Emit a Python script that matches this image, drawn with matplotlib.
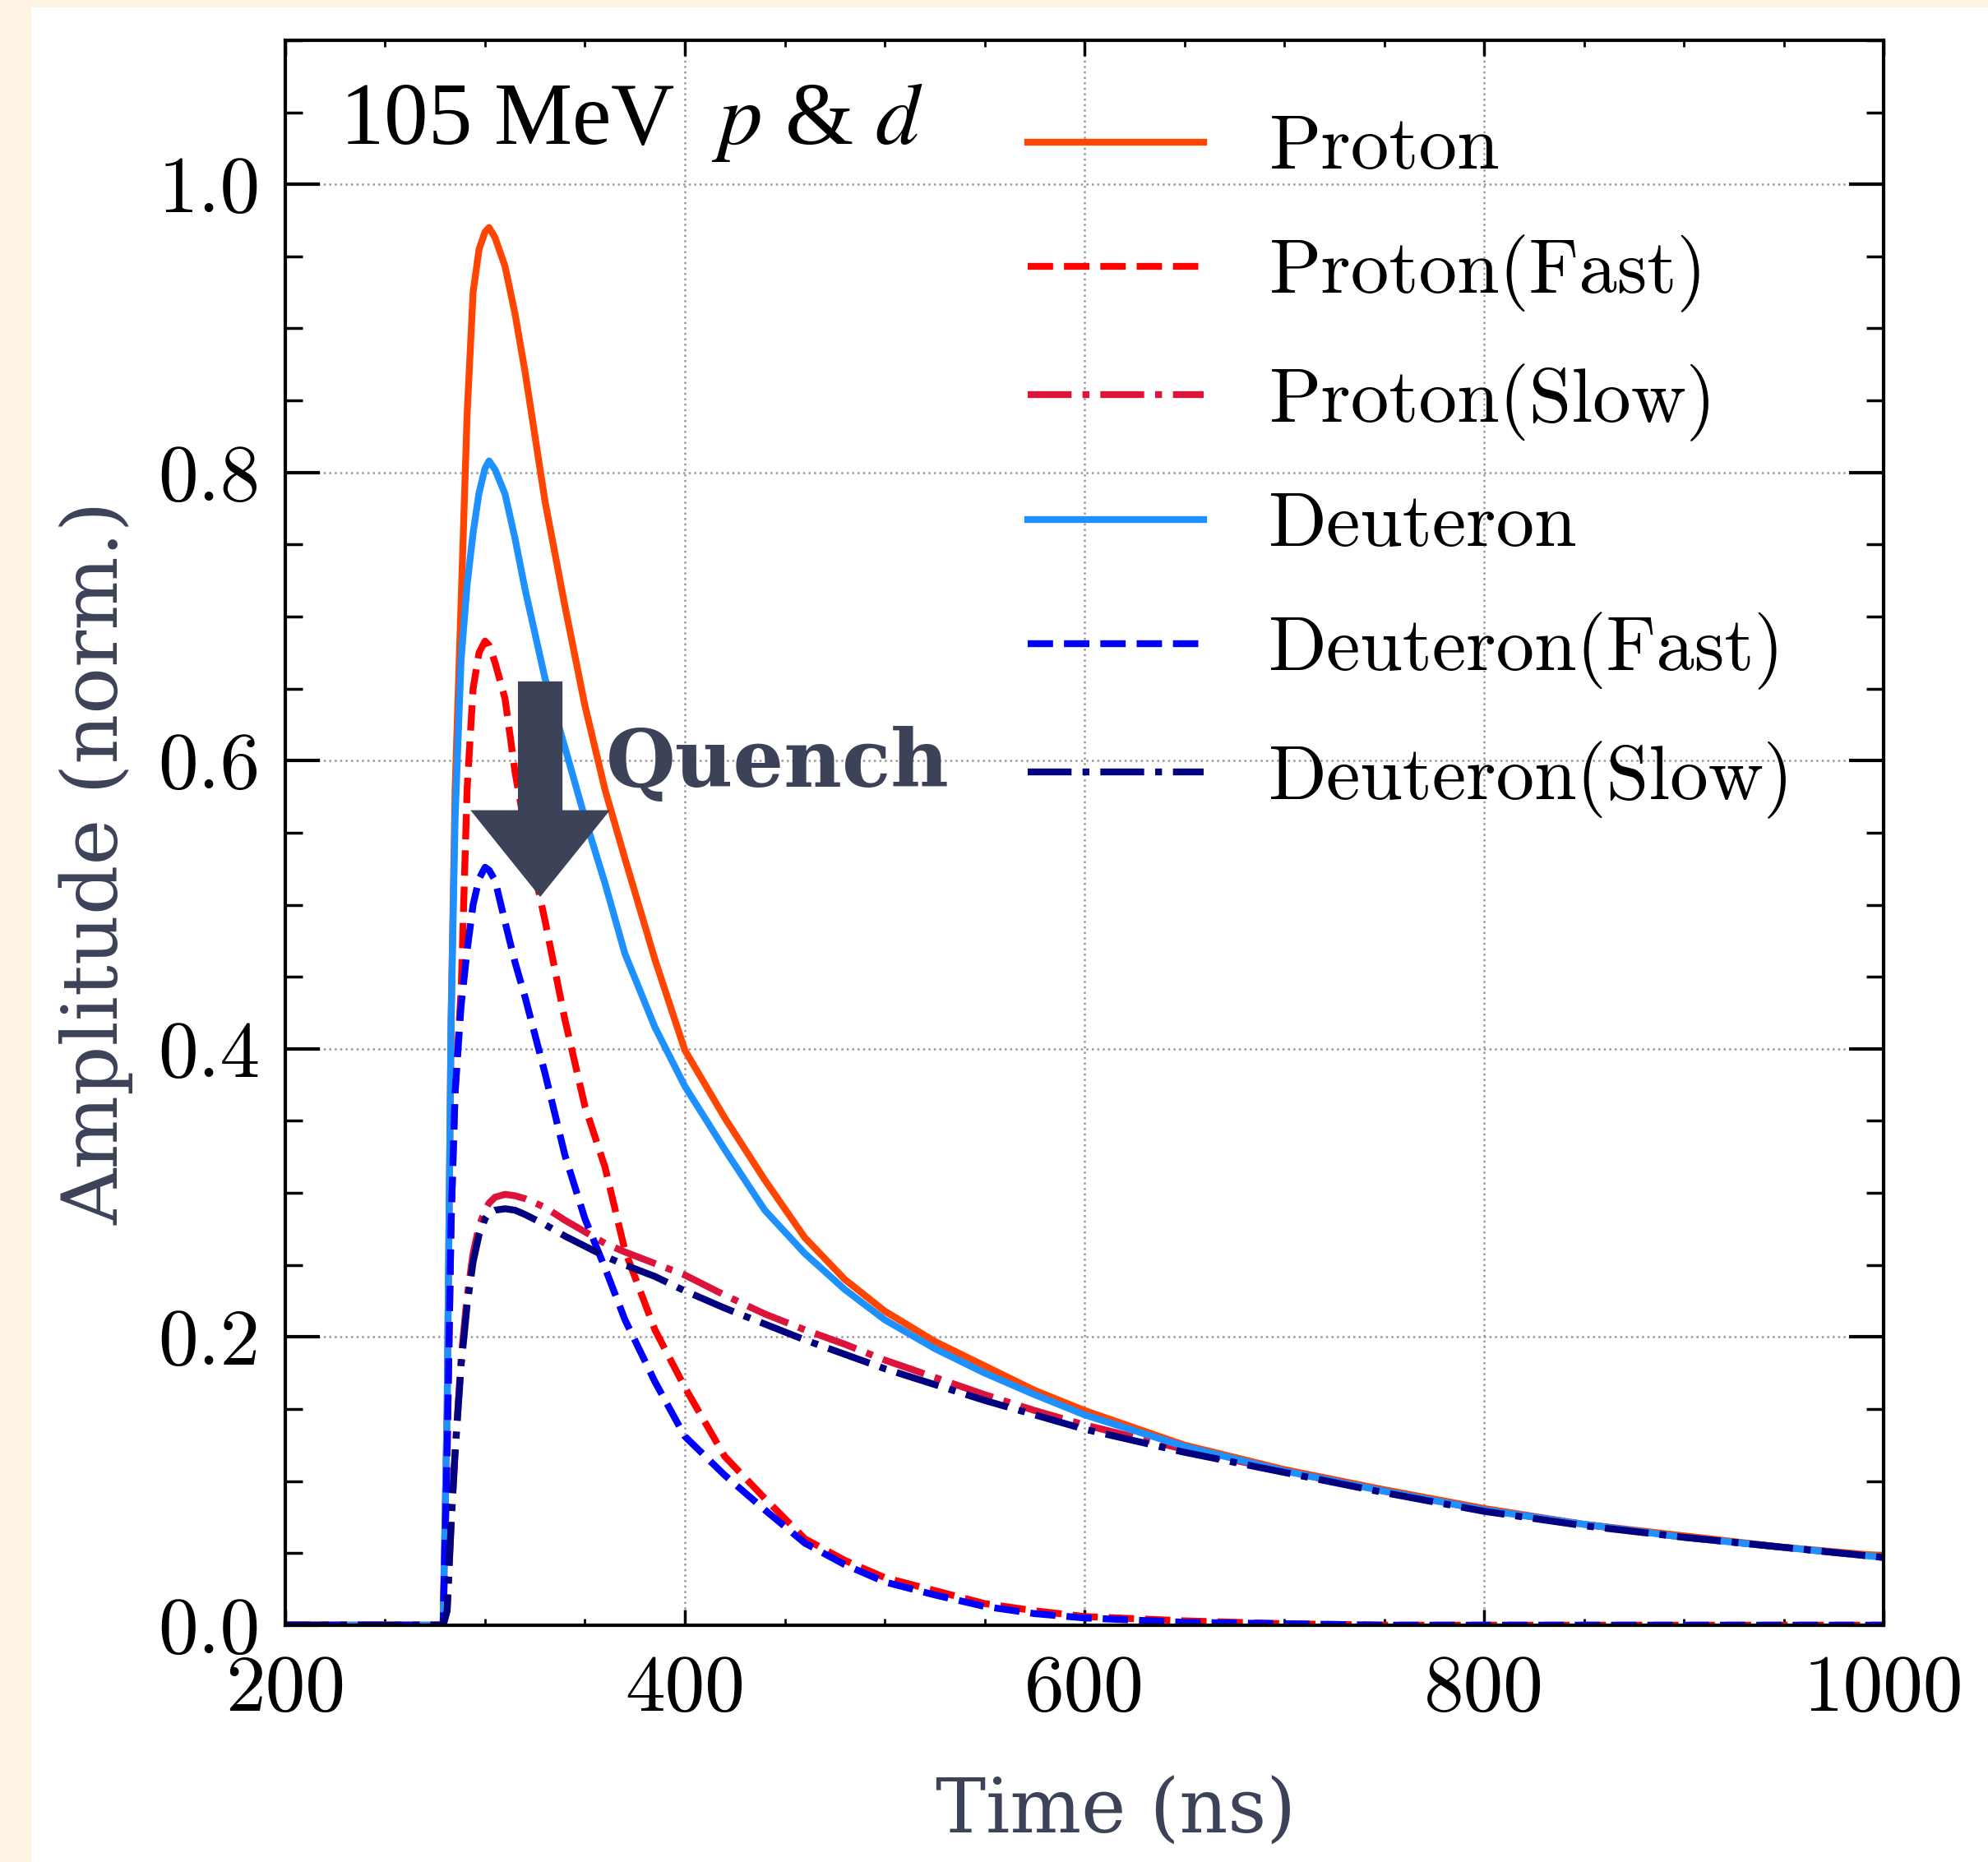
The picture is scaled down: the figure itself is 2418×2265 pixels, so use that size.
"""
脉冲波形对比图：105 MeV 质子与氘核（快/慢成分）
"""

import matplotlib
matplotlib.use('Agg')
import matplotlib.pyplot as plt
from matplotlib.patches import Rectangle, FancyArrow
from matplotlib.ticker import MultipleLocator, FormatStrFormatter

# ========== 数据 ==========
time_ns = [200, 279, 281, 283, 285, 288, 291, 294, 297, 300, 302, 305, 310, 315,
           320, 330, 340, 350, 360, 370, 385, 400, 420, 440, 460, 480, 500, 525,
           550, 575, 600, 650, 700, 750, 800, 850, 900, 950, 1000]

proton = [0, 0, 0.15, 0.42, 0.58, 0.71, 0.84, 0.925, 0.955, 0.967, 0.970, 0.963,
          0.943, 0.910, 0.870, 0.780, 0.707, 0.638, 0.580, 0.532, 0.462, 0.399,
          0.352, 0.309, 0.269, 0.240, 0.218, 0.197, 0.180, 0.163, 0.149, 0.125,
          0.108, 0.094, 0.081, 0.070, 0.062, 0.054, 0.048]

proton_fast = [0, 0, 0.12, 0.28, 0.37, 0.44, 0.58, 0.65, 0.675, 0.683, 0.680,
               0.668, 0.643, 0.592, 0.553, 0.489, 0.420, 0.360, 0.318, 0.260,
               0.205, 0.165, 0.117, 0.088, 0.060, 0.045, 0.033, 0.024, 0.015,
               0.010, 0.006, 0.003, 0.001, 0, 0, 0, 0, 0, 0]

proton_slow = [0, 0, 0.01, 0.07, 0.12, 0.185, 0.228, 0.258, 0.277, 0.288, 0.293,
               0.297, 0.299, 0.298, 0.296, 0.290, 0.281, 0.273, 0.265, 0.259,
               0.251, 0.243, 0.229, 0.216, 0.205, 0.195, 0.184, 0.172, 0.160,
               0.149, 0.139, 0.122, 0.107, 0.093, 0.080, 0.070, 0.061, 0.054, 0.047]

deuteron = [0, 0, 0.15, 0.42, 0.56, 0.67, 0.722, 0.758, 0.786, 0.803, 0.808,
            0.802, 0.785, 0.754, 0.719, 0.657, 0.609, 0.560, 0.515, 0.466, 0.415,
            0.374, 0.330, 0.288, 0.258, 0.233, 0.212, 0.192, 0.175, 0.160, 0.146,
            0.124, 0.107, 0.093, 0.080, 0.070, 0.061, 0.054, 0.047]

deuteron_fast = [0, 0, 0.12, 0.28, 0.37, 0.43, 0.468, 0.500, 0.518, 0.526, 0.524,
                 0.517, 0.488, 0.460, 0.436, 0.383, 0.326, 0.282, 0.248, 0.212,
                 0.169, 0.131, 0.104, 0.080, 0.057, 0.042, 0.030, 0.021, 0.013,
                 0.008, 0.005, 0.002, 0.001, 0, 0, 0, 0, 0, 0]

deuteron_slow = [0, 0, 0.01, 0.07, 0.12, 0.18, 0.222, 0.252, 0.271, 0.282, 0.286,
                 0.288, 0.289, 0.288, 0.285, 0.278, 0.270, 0.263, 0.256, 0.250,
                 0.242, 0.232, 0.220, 0.209, 0.198, 0.188, 0.178, 0.167, 0.156,
                 0.146, 0.136, 0.120, 0.106, 0.092, 0.079, 0.069, 0.061, 0.054, 0.047]

series_labels = ['Proton', 'Proton(Fast)', 'Proton(Slow)',
                 'Deuteron', 'Deuteron(Fast)', 'Deuteron(Slow)']

# ========== 样式 ==========
TEXT_DARK = '#3C4257'
BEIGE = '#FFF4E3'
styles = [
    dict(color='#FF4500', ls='-'),
    dict(color='#FF0000', ls='--'),
    dict(color='#DC143C', ls='-.'),
    dict(color='#1E90FF', ls='-'),
    dict(color='#0000FF', ls='--'),
    dict(color='#000080', ls='-.'),
]

plt.rcParams['mathtext.fontset'] = 'stix'

fig = plt.figure(figsize=(24.18, 22.65), dpi=100)
fig.patch.set_facecolor('white')

# 左侧和顶部的米色边条
fig.patches.append(Rectangle((0, 0), 38 / 2418, 1, transform=fig.transFigure,
                             facecolor=BEIGE, edgecolor='none', zorder=-5))
fig.patches.append(Rectangle((0, 1 - 9 / 2265), 1, 9 / 2265, transform=fig.transFigure,
                             facecolor=BEIGE, edgecolor='none', zorder=-5))

ax = fig.add_axes([0.1435, 0.1272, 0.804, 0.8512])

all_series = [proton, proton_fast, proton_slow, deuteron, deuteron_fast, deuteron_slow]
for values, label, st in zip(all_series, series_labels, styles):
    ax.plot(time_ns, values, label=label, color=st['color'], linestyle=st['ls'], linewidth=6)

ax.set_xlim(200, 1000)
ax.set_ylim(0, 1.1)

# 刻度
ax.xaxis.set_major_locator(MultipleLocator(200))
ax.xaxis.set_minor_locator(MultipleLocator(50))
ax.yaxis.set_major_locator(MultipleLocator(0.2))
ax.yaxis.set_minor_locator(MultipleLocator(0.05))
ax.xaxis.set_major_formatter(FormatStrFormatter('%d'))
ax.yaxis.set_major_formatter(FormatStrFormatter('%.1f'))

ax.tick_params(axis='both', which='both', direction='in', top=True, right=True)
ax.tick_params(axis='x', which='major', length=14, width=2.5, pad=26, labelsize=70)
ax.tick_params(axis='x', which='minor', length=6, width=2)
ax.tick_params(axis='y', which='major', length=30, width=3, pad=22, labelsize=70)
ax.tick_params(axis='y', which='minor', length=15, width=2.5)
for lab in ax.get_xticklabels() + ax.get_yticklabels():
    lab.set_fontfamily('cmr10')

for spine in ax.spines.values():
    spine.set_linewidth(3)

ax.grid(True, which='major', linestyle=':', color='#999999', linewidth=1.8)

# 坐标轴标题
ax.set_xlabel('Time (ns)', fontsize=66, family='DejaVu Serif', color=TEXT_DARK)
ax.xaxis.set_label_coords(0.5195, -0.095)
ax.set_ylabel('Amplitude (norm.)', fontsize=68, family='DejaVu Serif', color=TEXT_DARK,
              va='center')
ax.yaxis.set_label_coords(-0.118, 0.481)

# 标注文字
ax.text(0.034, 0.9346, r'105 MeV  $p$ & $d$', transform=ax.transAxes,
        fontsize=77, family='Liberation Serif', va='baseline', ha='left')

# Quench 箭头
arrow = FancyArrow(327.6, 0.655, 0, -0.1496, width=22.3, head_width=69.8,
                   head_length=0.0602, length_includes_head=True,
                   facecolor=TEXT_DARK, edgecolor='none', zorder=5)
ax.add_patch(arrow)
ax.text(360.5, 0.582, 'Quench', fontsize=70, fontweight='bold',
        family='DejaVu Serif', color=TEXT_DARK, va='baseline', ha='left', zorder=6)

# 图例
leg = ax.legend(loc='upper left', bbox_to_anchor=(0.4455, 0.972), frameon=False,
                prop={'family': 'cmr10', 'size': 67}, handlelength=2.3,
                handletextpad=0.85, labelspacing=0.67, borderaxespad=0)

fig.savefig('out.png', dpi=100)
